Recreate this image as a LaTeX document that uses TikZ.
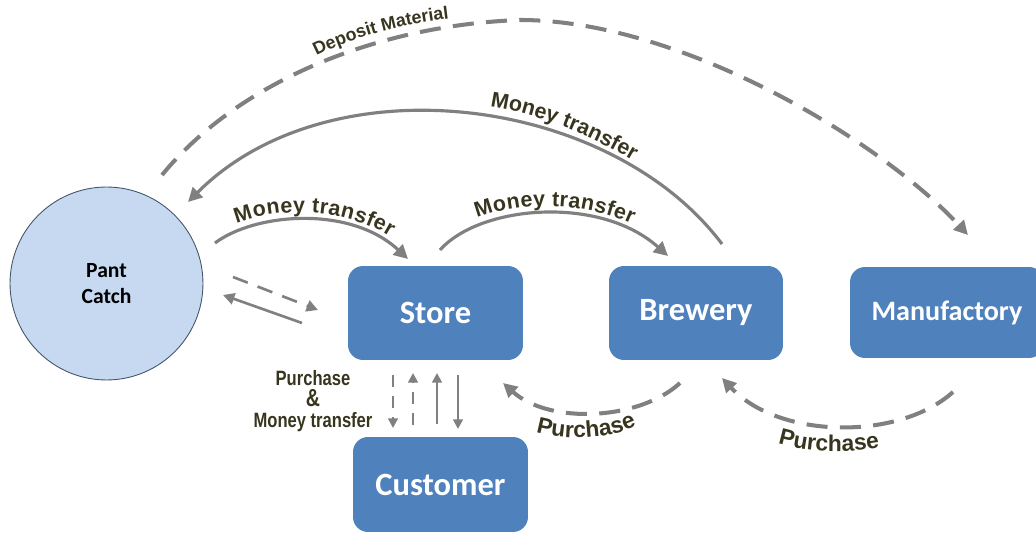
\documentclass[tikz,border=0pt]{standalone}
\usepackage{fontspec}
\setmainfont{Liberation Sans}
\newfontfamily\boxfont{Carlito}
\newfontfamily\lblfont{Liberation Sans}
\newfontfamily\narrowfont[FakeStretch=0.8]{Liberation Sans}
\usetikzlibrary{arrows.meta,decorations.text}
\definecolor{boxblue}{HTML}{4F81BD}
\definecolor{circfill}{HTML}{C6D9F1}
\definecolor{circline}{HTML}{44546A}
\definecolor{arrowgray}{HTML}{808080}
\definecolor{lbl}{HTML}{38351F}
\newcommand\mtfont{\color{lbl}\lblfont\bfseries\fontsize{12.2}{14}\selectfont}
\newcommand\pufont{\color{lbl}\lblfont\bfseries\fontsize{13}{15}\selectfont}
\newcommand\depfont{\color{lbl}\lblfont\bfseries\fontsize{10.2}{12}\selectfont}
\begin{document}
\begin{tikzpicture}[x=0.02cm,y=-0.02cm,
  box/.style={rectangle, rounded corners=0.3cm, fill=boxblue, text=white,
    font=\boxfont\bfseries\fontsize{18.5}{20}\selectfont,
    minimum width=3.5cm, minimum height=1.88cm, inner sep=0pt},
  flow/.style={draw=arrowgray, line width=1.8pt, -{Triangle[length=8pt,width=8pt]}},
  dflow/.style={flow, line width=2.3pt, dash pattern=on 12pt off 7pt},
  smallflow/.style={draw=arrowgray, line width=1.5pt, -{Triangle[length=6.5pt,width=6.5pt]}},
  smalldflow/.style={smallflow, dash pattern=on 9pt off 6pt},
  vflow/.style={draw=arrowgray, line width=1.4pt, -{Triangle[length=5.5pt,width=5.5pt]}},
  vdflow/.style={vflow, dash pattern=on 7pt off 5pt},
  curvelabel/.style={decorate, decoration={text along path, text align=center, #1}}
]
\useasboundingbox (0,0) rectangle (1036,533);
\clip (0,0) rectangle (1036,533);

% nodes
\node[circle, minimum size=3.86cm, fill=circfill, draw=circline, line width=0.5pt,
  font=\boxfont\bfseries\fontsize{12.3}{15}\selectfont, align=center, inner sep=0pt]
  (pc) at (106.5,283.5) {Pant\\Catch};
\node[box] (store) at (435.5,313) {Store};
\node[box, minimum width=3.48cm] (brewery) at (696,313) {Brewery};
\node[box, minimum width=3.88cm, minimum height=1.82cm,
  font=\boxfont\bfseries\fontsize{16}{18}\selectfont] (manuf) at (947,312.5) {Manufactory};
\node[box, minimum height=1.9cm] (customer) at (440.5,484.5) {Customer};
\node[font=\narrowfont\bfseries\fontsize{11.8}{12}\selectfont, text=lbl, align=center, inner sep=0pt]
  (pmlabel) at (313,401) {Purchase\\{\fontsize{14}{12}\selectfont\&}\\Money transfer};

% connector end points
\coordinate (m1s) at (215,243);  \coordinate (m1e) at (408,259);
\coordinate (m2s) at (440,250);  \coordinate (m2e) at (668,256);
\coordinate (m3s) at (722,244);  \coordinate (m3e) at (188,202);
\coordinate (d1s) at (162,175);  \coordinate (d1m) at (520,20); \coordinate (d1e) at (968,235);
\coordinate (p1s) at (680,383);  \coordinate (p1e) at (503,383);
\coordinate (p2s) at (953,392);  \coordinate (p2e) at (722,378);
\coordinate (l1s) at (233,277);  \coordinate (l1e) at (318,310);
\coordinate (l2s) at (302,323);  \coordinate (l2e) at (223,295);
\coordinate (v1s) at (393,375);  \coordinate (v1e) at (393,428);
\coordinate (v2s) at (413,425);  \coordinate (v2e) at (413,373);
\coordinate (v3s) at (437,424);  \coordinate (v3e) at (437,373);
\coordinate (v4s) at (458,375);  \coordinate (v4e) at (458,429);

% money transfer arcs
\draw[flow] (m1s) .. controls (255,213) and (350,205) .. (m1e);
\path[curvelabel={raise=4pt, text={|\mtfont|Money transfer}}]
  (m1s) .. controls (255,213) and (350,205) .. (m1e);
\draw[flow] (m2s) .. controls (480,205) and (600,195) .. (m2e);
\path[curvelabel={raise=4pt, text={|\mtfont|Money transfer}}]
  (m2s) .. controls (480,205) and (600,195) .. (m2e);
\draw[flow] (m3s) .. controls (610,95) and (330,60) .. (m3e);
\path[curvelabel={text={|\mtfont|Money transfer}}]
  (462,104) .. controls (522,106) and (592,133) .. (657,176);

% deposit material
\draw[dflow] (d1s) .. controls (240,80) and (380,25) .. (d1m)
  .. controls (680,20) and (880,140) .. (d1e);
\path[curvelabel={text={|\depfont|Deposit Material}}]
  (305,62) .. controls (352,36) and (405,23) .. (462,17);

% purchase arcs
\draw[dflow] (p1s) .. controls (640,420) and (550,425) .. (p1e);
\path[curvelabel={text={|\pufont|Purchase}}]
  (530,430) .. controls (560,441) and (610,441) .. (642,423);
\draw[dflow] (p2s) .. controls (900,440) and (780,440) .. (p2e);
\path[curvelabel={text={|\pufont|Purchase}}]
  (768,440) .. controls (803,454) and (853,454) .. (890,446);

% pant catch <-> store
\draw[smalldflow] (l1s) -- (l1e);
\draw[smallflow] (l2s) -- (l2e);

% store <-> customer
\draw[vdflow] (v1s) -- (v1e);
\draw[vdflow] (v2s) -- (v2e);
\draw[vflow] (v3s) -- (v3e);
\draw[vflow] (v4s) -- (v4e);
\end{tikzpicture}
\end{document}
